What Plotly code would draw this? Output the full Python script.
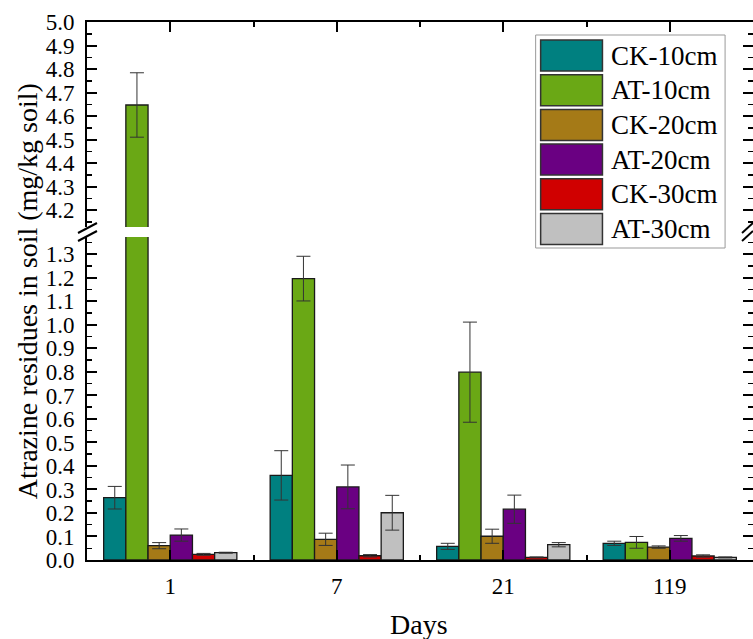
import plotly.graph_objects as go

# ---------------- data ----------------
days = ["1", "7", "21", "119"]
series_names = ["CK-10cm", "AT-10cm", "CK-20cm", "AT-20cm", "CK-30cm", "AT-30cm"]
ck10 = [0.265, 0.360, 0.058, 0.071]
ck10_err = [0.048, 0.105, 0.013, 0.009]
at10 = [4.647, 1.197, 0.799, 0.075]
at10_err = [0.137, 0.095, 0.213, 0.025]
ck20 = [0.061, 0.088, 0.101, 0.055]
ck20_err = [0.013, 0.026, 0.030, 0.005]
at20 = [0.106, 0.311, 0.216, 0.092]
at20_err = [0.026, 0.093, 0.060, 0.012]
ck30 = [0.024, 0.018, 0.011, 0.017]
ck30_err = [0.004, 0.005, 0.002, 0.005]
at30 = [0.031, 0.201, 0.065, 0.011]
at30_err = [0.002, 0.074, 0.009, 0.002]
values = [ck10, at10, ck20, at20, ck30, at30]
errors = [ck10_err, at10_err, ck20_err, at20_err, ck30_err, at30_err]
colors = ["#008080", "#6aa815", "#a57a17", "#6a0082", "#d00000", "#c0c0c0"]
x_title = "Days"
y_title = "Atrazine residues in soil (mg/kg soil)"

# ---------------- layout geometry ----------------
# the original figure is cropped on the right: the frame's right edge sits
# just outside the 753 px window, so the figure is made 2 px wider.
W, H = 755, 639
L, R, T, B = 87, 0, 22, 79
PW, PH = W - L - R, H - T - B
FONT = "Liberation Serif"

def px(xp):
    return (xp - L) / PW

def py(yp):
    return (H - B - yp) / PH

low_range = [0, 1.374]
up_range = [4.128, 5.0]
low_dom = [0, py(237)]
up_dom = [py(227), 1]

xpos = list(range(len(days)))

fig = go.Figure()
for name, vals, errs, col in zip(series_names, values, errors, colors):
    for xa, ya in (("x", "y"), ("x2", "y2")):
        fig.add_trace(go.Bar(
            x=xpos, y=vals, name=name, xaxis=xa, yaxis=ya,
            marker=dict(color=col, line=dict(color="#1a1a1a", width=1.3)),
            error_y=dict(type="data", array=errs, visible=True,
                         color="#333333", thickness=1, width=7),
            showlegend=False, hoverinfo="skip",
        ))

axis_common = dict(showline=True, linewidth=2, linecolor="black",
                   showgrid=False, zeroline=False, ticks="inside",
                   tickwidth=2, tickcolor="black",
                   tickfont=dict(family=FONT, size=23, color="black"))

xticks = dict(tickmode="array", tickvals=xpos, ticktext=days, ticklen=10,
              minor=dict(tickmode="array", tickvals=[0.5, 1.5, 2.5],
                         ticklen=5, tickwidth=2, ticks="inside", tickcolor="black"))

yticks = dict(tick0=0, dtick=0.1, tickformat=".1f", ticklen=10, mirror="ticks",
              minor=dict(tick0=0, dtick=0.05, ticklen=5, tickwidth=1.5,
                         ticks="inside", tickcolor="black"))

fig.update_layout(
    width=W, height=H,
    margin=dict(l=L, r=R, t=T, b=B),
    paper_bgcolor="white", plot_bgcolor="white",
    barmode="group", bargap=0.2, bargroupgap=0,
    showlegend=False,
    font=dict(family=FONT, color="black"),
    xaxis=dict(domain=[0, 1], range=[-0.5, 3.5], anchor="y",
               ticklabelstandoff=4, **xticks, **axis_common),
    xaxis2=dict(domain=[0, 1], range=[-0.5, 3.5], anchor="y2", side="top",
                showticklabels=False, **xticks, **axis_common),
    yaxis=dict(domain=low_dom, range=low_range, anchor="x",
               ticklabelstandoff=6, **yticks, **axis_common),
    yaxis2=dict(domain=up_dom, range=up_range, anchor="x2",
                ticklabelstandoff=6, **yticks, **axis_common),
)

shapes = []
annotations = []

# axis break marks (left and right)
for (x0, x1) in ((78, 97), (744, 755)):
    for (y0, y1) in ((233, 223), (241, 231)):
        shapes.append(dict(type="line", xref="paper", yref="paper",
                           x0=px(x0), x1=px(x1), y0=py(y0), y1=py(y1),
                           line=dict(color="black", width=2)))

# custom legend
shapes.append(dict(type="rect", xref="paper", yref="paper",
                   x0=px(537), x1=px(727), y0=py(35), y1=py(248),
                   line=dict(color="#999999", width=1), fillcolor="white",
                   layer="above"))
for i, (name, col) in enumerate(zip(series_names, colors)):
    top = 40 + 34.7 * i
    shapes.append(dict(type="rect", xref="paper", yref="paper",
                       x0=px(542), x1=px(604), y0=py(top), y1=py(top + 31),
                       line=dict(color="#333333", width=1.5), fillcolor=col,
                       layer="above"))
    annotations.append(dict(xref="paper", yref="paper", x=px(611), y=py(top + 15.5),
                            text=name, showarrow=False, xanchor="left",
                            yanchor="middle",
                            font=dict(family=FONT, size=27, color="black")))

annotations.append(dict(xref="paper", yref="paper", x=px(420), y=py(625),
                        text=x_title, showarrow=False, xanchor="center",
                        yanchor="middle",
                        font=dict(family=FONT, size=28, color="black")))
annotations.append(dict(xref="paper", yref="paper", x=px(27), y=py(291),
                        text=y_title, showarrow=False, textangle=-90,
                        xanchor="center", yanchor="middle",
                        font=dict(family=FONT, size=28, color="black")))

fig.update_layout(shapes=shapes, annotations=annotations)
fig.write_html("out.html",
               config={"displayModeBar": False, "staticPlot": True},
               post_script="document.body.style.margin='0';"
                           "document.body.style.overflow='hidden';"
                           "document.documentElement.style.overflow='hidden';")
